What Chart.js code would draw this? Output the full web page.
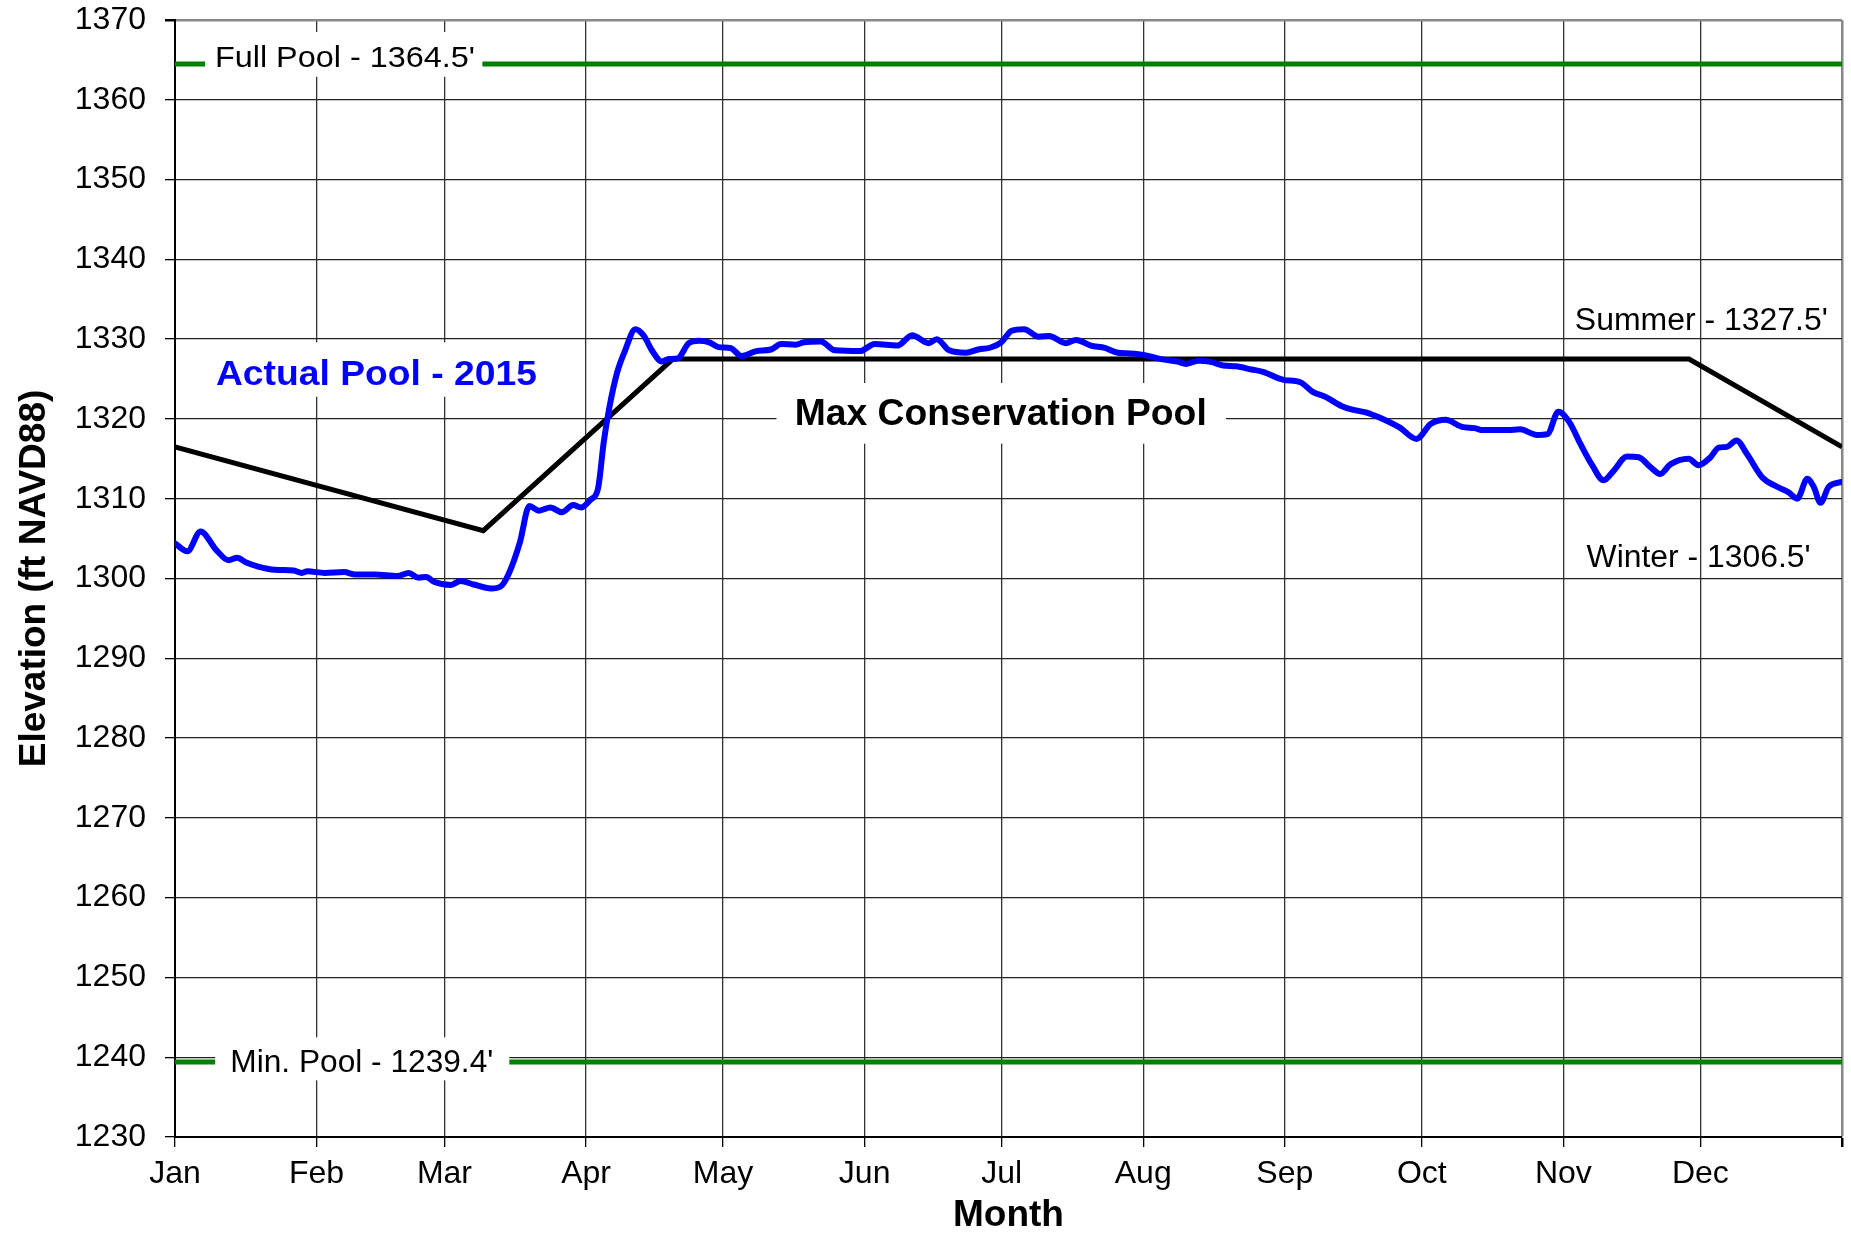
<!DOCTYPE html>
<html lang="en">
<head>
  <meta charset="UTF-8">
  <title>Actual Pool - 2015</title>
  <style>
    * { margin: 0; padding: 0; box-sizing: border-box; }
    body { background: #fff; width: 1851px; height: 1238px; overflow: hidden; }
    .chart-box { position: relative; width: 1851px; height: 1238px; }
  </style>
</head>
<body>
<div class="chart-box">
  <canvas id="poolChart"></canvas>
</div>

<script src="https://cdn.jsdelivr.net/npm/chart.js"></script>
<script>
  // month starts (day of year) and their labels
  const monthDays = [0, 31, 59, 90, 120, 151, 181, 212, 243, 273, 304, 334, 365];
  const monthLabels = ['Jan', 'Feb', 'Mar', 'Apr', 'May', 'Jun', 'Jul', 'Aug', 'Sep', 'Oct', 'Nov', 'Dec', ''];

  const yTicks = [1230, 1240, 1250, 1260, 1270, 1280, 1290, 1300, 1310, 1320, 1330, 1340, 1350, 1360, 1370];

  // max conservation pool (rule curve)
  const ruleDays = [0, 67.5, 109, 331.5, 365];
  const ruleElev = [1316.5, 1306.0, 1327.5, 1327.5, 1316.5];

  const fullPool = 1364.5;
  const minPool = 1239.4;

  // actual pool 2015
  const actualDays = [
    0, 2.7, 5.6, 9, 11.7, 13.6, 15.6, 18.2, 21.9, 26, 27.8, 29, 32.8, 37, 39.5, 43.7, 48.7, 51.2,
    53.3, 55, 56.7, 60.4, 62.5, 65.4, 69.2, 71.3, 73, 75.5, 77.6, 79.7, 82.2, 84.7, 87.2, 88.9,
    91, 92.6, 93.9, 95.1, 96.8, 98.5, 100.8, 102.7, 104.3, 106.6, 108.1, 110.1, 112.5, 114.7,
    117, 119, 121.6, 124, 127.3, 130.5, 132.7, 135.9, 137.7, 141.4, 144.5, 150, 153.2, 158.2,
    161.4, 165, 166.8, 169.5, 173.2, 175.9, 178.6, 180.9, 183.2, 185.9, 189.1, 191.4, 195,
    197.3, 200.5, 203.6, 206.4, 209.1, 212.3, 215.9, 219.5, 221.4, 224.1, 226.8, 229.5, 232.3,
    235.7, 238.2, 242.7, 246.4, 249.1, 251.8, 255.5, 259.1, 260.9, 263.6, 268.2, 271.8, 275,
    278.2, 281.8, 284.5, 286.4, 291.8, 294.5, 298.2, 300.5, 302.9, 305.3, 307.7, 310.3, 312.8,
    315, 317.9, 320.5, 323, 325.2, 327.4, 331.4, 333.6, 336.2, 338, 339.8, 341.9, 344.2, 347.5,
    350.8, 353.3, 355.2, 357.4, 358.8, 360.3, 362.1, 365
  ];
  const actualElev = [
    1304.4, 1303.4, 1305.9, 1303.6, 1302.3, 1302.6, 1302.0, 1301.5, 1301.1, 1301.0, 1300.7, 1300.9, 1300.7, 1300.8, 1300.5, 1300.5, 1300.3, 1300.7,
    1300.1, 1300.2, 1299.6, 1299.2, 1299.7, 1299.25, 1298.75, 1299.0, 1300.5, 1304.5, 1309.1, 1308.5, 1308.9, 1308.3, 1309.2, 1308.9,
    1309.9, 1311.2, 1317.2, 1321.4, 1325.8, 1328.5, 1331.25, 1330.4, 1328.7, 1327.2, 1327.5, 1327.6, 1329.5, 1329.8,
    1329.6, 1329.0, 1328.9, 1327.9, 1328.5, 1328.7, 1329.4, 1329.3, 1329.6, 1329.7, 1328.6, 1328.5, 1329.4, 1329.2,
    1330.5, 1329.5, 1330.0, 1328.6, 1328.3, 1328.7, 1328.95, 1329.6, 1331.05, 1331.25, 1330.3, 1330.4, 1329.5,
    1329.9, 1329.2, 1328.9, 1328.3, 1328.2, 1328.0, 1327.5, 1327.2, 1326.9, 1327.3, 1327.15, 1326.7, 1326.6,
    1326.2, 1325.9, 1324.9, 1324.6, 1323.4, 1322.8, 1321.6, 1321.0, 1320.8, 1320.2, 1318.9, 1317.5, 1319.4,
    1319.9, 1319.0, 1318.85, 1318.6, 1318.6, 1318.7, 1318.0, 1318.1, 1320.9, 1319.6, 1316.9, 1314.2, 1312.3,
    1313.5, 1315.3, 1315.2, 1314.0, 1313.1, 1314.3, 1315.0, 1314.2, 1315.2, 1316.4, 1316.5, 1317.3, 1315.6, 1312.7,
    1311.5, 1310.8, 1310.0, 1312.5, 1311.5, 1309.5, 1311.5, 1312.1
  ];

  const toPoints = (xs, ys) => xs.map((x, i) => ({ x: x, y: ys[i] }));

  // text labels inside the plot (x in days, y in feet); box = white patch behind
  const notes = [
    { text: "Full Pool - 1364.5'", x: 37.2, y: 1365.5, font: '30px "Liberation Sans"', color: '#000', width: 260, box: [6.6, 67.3, 1368.5, 1362.9] },
    { text: "Min. Pool - 1239.4'", x: 40.9, y: 1239.6, font: '31px "Liberation Sans"', color: '#000', width: 263, box: [8.8, 73.2, 1242.5, 1237.1] },
    { text: 'Actual Pool - 2015', x: 44.1, y: 1325.8, font: 'bold 35px "Liberation Sans"', color: '#0000ff', width: 321, box: [6.6, 82.2, 1329.6, 1322.8] },
    { text: 'Max Conservation Pool', x: 180.8, y: 1320.9, font: 'bold 37px "Liberation Sans"', color: '#000', width: 412, box: [131.7, 230.1, 1324.5, 1316.9] },
    { text: "Summer - 1327.5'", x: 334.2, y: 1332.5, font: '31px "Liberation Sans"', color: '#000', width: 253 },
    { text: "Winter - 1306.5'", x: 333.6, y: 1302.8, font: '31px "Liberation Sans"', color: '#000', width: 224 }
  ];

  const notePlugin = {
    id: 'notes',
    afterDatasetsDraw(chart) {
      const ctx = chart.ctx;
      const xs = chart.scales.x;
      const ys = chart.scales.y;
      ctx.save();
      notes.forEach(n => {
        if (n.box) {
          const x0 = xs.getPixelForValue(n.box[0]);
          const x1 = xs.getPixelForValue(n.box[1]);
          const y0 = ys.getPixelForValue(n.box[2]);
          const y1 = ys.getPixelForValue(n.box[3]);
          ctx.fillStyle = '#fff';
          ctx.fillRect(x0, y0, x1 - x0, y1 - y0);
        }
        ctx.font = n.font;
        const size = parseFloat(n.font.match(/(\d+)px/)[1]);
        const w = ctx.measureText(n.text).width;
        const sx = n.width / w;
        const cx = xs.getPixelForValue(n.x);
        const cy = ys.getPixelForValue(n.y);
        ctx.save();
        ctx.translate(cx, cy + size * 0.358);
        ctx.scale(sx, 1);
        ctx.fillStyle = n.color;
        ctx.textAlign = 'center';
        ctx.textBaseline = 'alphabetic';
        ctx.fillText(n.text, 0, 0);
        ctx.restore();
      });
      ctx.restore();
    }
  };

  new Chart(document.getElementById('poolChart'), {
    type: 'line',
    data: {
      datasets: [
        {
          label: 'Actual Pool - 2015',
          data: toPoints(actualDays, actualElev),
          borderColor: '#0000ff',
          borderWidth: 6,
          pointRadius: 0,
          cubicInterpolationMode: 'monotone',
          borderJoinStyle: 'round',
          borderCapStyle: 'round'
        },
        {
          label: 'Max Conservation Pool',
          data: toPoints(ruleDays, ruleElev),
          borderColor: '#000',
          borderWidth: 5,
          pointRadius: 0,
          tension: 0
        },
        {
          label: 'Full Pool',
          data: toPoints([0, 365], [fullPool, fullPool]),
          borderColor: '#008000',
          borderWidth: 5,
          pointRadius: 0
        },
        {
          label: 'Min. Pool',
          data: toPoints([0, 365], [minPool, minPool]),
          borderColor: '#008000',
          borderWidth: 5,
          pointRadius: 0
        }
      ]
    },
    options: {
      responsive: true,
      maintainAspectRatio: false,
      animation: false,
      layout: { padding: { top: 20, right: 9, left: 0, bottom: 0 } },
      plugins: {
        legend: { display: false },
        tooltip: { enabled: false }
      },
      scales: {
        x: {
          type: 'linear',
          min: 0,
          max: 365,
          afterBuildTicks: s => { s.ticks = monthDays.map(v => ({ value: v })); },
          afterFit: s => { s.height = 101; s.paddingLeft = 0; s.paddingRight = 0; },
          ticks: {
            autoSkip: false,
            maxRotation: 0,
            padding: 8,
            color: '#000',
            font: { family: 'Liberation Sans', size: 32 },
            callback: (v, i) => monthLabels[i]
          },
          grid: {
            color: c => (c.tick && c.tick.value === 365) ? '#888' : '#333',
            lineWidth: c => (c.tick && c.tick.value === 365) ? 2.5 : 1.3,
            tickColor: '#000',
            tickLength: 10
          },
          border: { color: '#000', width: 2 },
          title: {
            display: true,
            text: 'Month',
            color: '#000',
            padding: { top: 0, bottom: 0 },
            font: { family: 'Liberation Sans', size: 37, weight: 'bold' }
          }
        },
        y: {
          min: 1230,
          max: 1370,
          afterBuildTicks: s => { s.ticks = yTicks.map(v => ({ value: v })); },
          afterFit: s => { s.width = 175; s.paddingTop = 0; s.paddingBottom = 0; },
          ticks: {
            padding: 19,
            color: '#000',
            font: { family: 'Liberation Sans', size: 32 },
            callback: v => String(v)
          },
          grid: {
            color: c => (c.tick && c.tick.value === 1370) ? '#888' : '#222',
            lineWidth: c => (c.tick && c.tick.value === 1370) ? 2.5 : 1.3,
            tickColor: '#000',
            tickLength: 10
          },
          border: { color: '#000', width: 2 },
          title: {
            display: true,
            text: 'Elevation (ft NAVD88)',
            color: '#000',
            padding: { top: 13, bottom: 0 },
            font: { family: 'Liberation Sans', size: 37, weight: 'bold' }
          }
        }
      }
    },
    plugins: [notePlugin]
  });
</script>
</body>
</html>
